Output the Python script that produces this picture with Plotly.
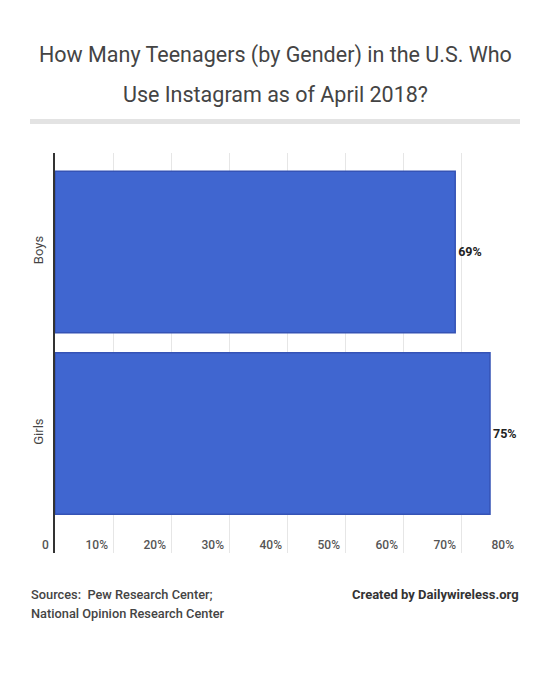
import plotly.graph_objects as go

categories = ["Boys", "Girls"]
values = [69, 75]
value_labels = ["69%", "75%"]
tick_vals = [0, 10, 20, 30, 40, 50, 60, 70, 80]
tick_text = ["0", "10%", "20%", "30%", "40%", "50%", "60%", "70%", "80%"]
title_lines = ["How Many Teenagers (by Gender) in the U.S. Who",
               "Use Instagram as of April 2018?"]
source_lines = ["Sources:  Pew Research Center;", "National Opinion Research Center"]
credit = "Created by Dailywireless.org"

W, H = 550, 683
L, R, T, B = 55, 31, 153, 130
pw, ph = W - L - R, H - T - B

def px(x):
    return (x - L) / pw

def py(y):
    return (H - B - y) / ph

tick_font = dict(family="Roboto", size=12, color="#555555", weight=500)

fig = go.Figure()
fig.add_trace(go.Bar(
    x=values, y=categories, orientation="h",
    marker=dict(color="#4066D0", line=dict(color="#3553B5", width=1.5)),
    width=0.89,
    text=value_labels, textposition="outside",
    textfont=dict(family="Roboto", size=12.5, color="#222222", weight="bold"),
    cliponaxis=False,
    hoverinfo="skip",
))

annotations = []
for i, line in enumerate(title_lines):
    annotations.append(dict(
        text=line, x=px(275), xref="paper", y=py([55, 94][i]), yref="paper",
        xanchor="center", yanchor="middle", showarrow=False,
        font=dict(family="Roboto", size=21.5, color="#444444"),
    ))
for i, line in enumerate(source_lines):
    annotations.append(dict(
        text=line, x=px(29), xref="paper", y=py([594, 613][i]), yref="paper",
        xanchor="left", yanchor="middle", showarrow=False,
        font=dict(family="Roboto", size=12.8, color="#444444", weight=500),
    ))
annotations.append(dict(
    text=credit, x=px(521), xref="paper", y=py(594), yref="paper",
    xanchor="right", yanchor="middle", showarrow=False,
    font=dict(family="Roboto", size=13, color="#333333", weight="bold"),
))
# the "0" tick label sits left of the plot edge, so place it on the x scale directly
annotations.append(dict(
    text=tick_text[0], x=tick_vals[0], xref="x", y=py(545), yref="paper",
    xanchor="right", yanchor="middle", xshift=-4, showarrow=False,
    font=tick_font,
))

fig.update_layout(
    width=W, height=H,
    margin=dict(l=L, r=R, t=T, b=B),
    paper_bgcolor="white", plot_bgcolor="white",
    showlegend=False,
    annotations=annotations,
    shapes=[dict(type="rect", xref="paper", yref="paper",
                 x0=px(30), x1=px(520), y0=py(124), y1=py(119),
                 fillcolor="#E3E3E3", line=dict(width=0), layer="above")],
    xaxis=dict(
        range=[0, 80], tickvals=tick_vals[1:], ticktext=tick_text[1:],
        showgrid=True, gridcolor="#E6E6E6", gridwidth=1,
        zeroline=False, showline=False,
        ticklabelposition="inside left", ticks="",
        ticklabelstandoff=-4, ticklabelshift=-5,
        tickfont=tick_font,
        fixedrange=True,
    ),
    yaxis=dict(
        type="category", categoryorder="array", categoryarray=categories,
        range=[1.658, -0.545],
        showline=True, linecolor="#333333", linewidth=2,
        showgrid=False, zeroline=False, ticks="",
        tickangle=-90, ticklabelstandoff=5,
        tickfont=dict(family="Roboto", size=13, color="#444444"),
        fixedrange=True,
    ),
    font=dict(family="Roboto"),
)

fig.write_html("out.html")
